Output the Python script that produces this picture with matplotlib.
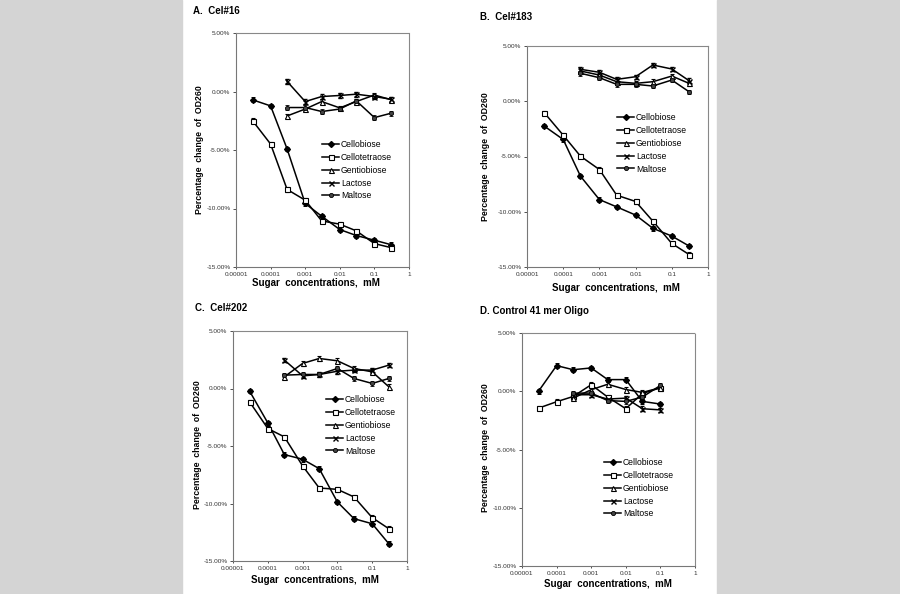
import matplotlib
matplotlib.use("Agg")
import matplotlib.pyplot as plt
from matplotlib.patches import Rectangle
from matplotlib.lines import Line2D
from matplotlib.ticker import FixedLocator, FixedFormatter, NullLocator

plt.rcParams['font.family'] = ['Liberation Sans', 'DejaVu Sans']

# ---------------- data ----------------
x_conc = [3e-5, 1e-4, 3e-4, 1e-3, 3e-3, 0.01, 0.03, 0.1, 0.3]
x_upper = [3e-4, 1e-3, 3e-3, 0.01, 0.03, 0.1, 0.3]
x_d_full = [3e-5, 1e-4, 3e-4, 1e-3, 3e-3, 0.01, 0.03, 0.1]
x_d_upper = [3e-4, 1e-3, 3e-3, 0.01, 0.03, 0.1]

series_names = ["Cellobiose", "Cellotetraose", "Gentiobiose", "Lactose", "Maltose"]

# Panel A: Cel#16
a_cellobiose = [-0.71, -1.23, -4.91, -9.57, -10.66, -11.80, -12.31, -12.71, -13.09]
a_cellotetraose = [-2.49, -4.49, -8.37, -9.29, -11.06, -11.34, -11.91, -13.00, -13.34]
a_gentiobiose = [-2.09, -1.50, -0.86, -1.40, -0.86, -0.30, -0.70]
a_lactose = [0.86, -0.86, -0.43, -0.34, -0.23, -0.43, -0.66]
a_maltose = [-1.37, -1.37, -1.71, -1.50, -0.80, -2.23, -1.86]

# Panel B: Cel#183
b_cellobiose = [-2.25, -3.46, -6.78, -8.90, -9.56, -10.30, -11.50, -12.20, -13.10]
b_cellotetraose = [-1.04, -3.07, -4.97, -6.18, -8.50, -9.07, -10.85, -12.87, -13.87]
b_gentiobiose = [2.74, 2.37, 1.77, 1.62, 1.77, 2.28, 1.62]
b_lactose = [2.89, 2.62, 1.98, 2.22, 3.28, 2.92, 1.86]
b_maltose = [2.53, 2.13, 1.53, 1.53, 1.38, 1.92, 0.86]

# Panel C: Cel#202
c_cellobiose = [-0.23, -2.99, -5.75, -6.15, -6.97, -9.87, -11.32, -11.76, -13.50]
c_cellotetraose = [-1.16, -3.48, -4.21, -6.73, -8.65, -8.77, -9.43, -11.23, -12.19]
c_gentiobiose = [1.02, 2.18, 2.61, 2.41, 1.74, 1.45, 0.15]
c_lactose = [2.47, 1.10, 1.22, 1.50, 1.60, 1.60, 2.03]
c_maltose = [1.16, 1.22, 1.22, 1.74, 0.87, 0.44, 0.87]

# Panel D: Control 41 mer Oligo
d_cellobiose = [0.00, 2.20, 1.85, 2.00, 1.00, 1.00, -0.87, -1.10]
d_cellotetraose = [-1.45, -0.90, -0.45, 0.56, -0.50, -1.50, -0.20, 0.30]
d_gentiobiose = [-0.59, 0.13, 0.60, 0.15, -0.10, 0.30]
d_lactose = [-0.30, -0.30, -0.67, -0.59, -1.50, -1.60]
d_maltose = [-0.16, -0.16, -0.80, -0.87, -0.50, 0.50]

err = 0.2

x_ticks = [1e-5, 1e-4, 1e-3, 1e-2, 1e-1, 1]
x_tick_labels = ["0.00001", "0.0001", "0.001", "0.01", "0.1", "1"]
y_ticks = [5, 0, -5, -10, -15]
y_tick_labels = ["5.00%", "0.00%", "-5.00%", "-10.00%", "-15.00%"]

styles = {
    "Cellobiose": dict(marker='D', ms=3.0, mfc='black', mec='black'),
    "Cellotetraose": dict(marker='s', ms=3.6, mfc='white', mec='black', mew=0.8),
    "Gentiobiose": dict(marker='^', ms=3.6, mfc='white', mec='black', mew=0.8),
    "Lactose": dict(marker='x', ms=3.6, mfc='black', mec='black', mew=1.0),
    "Maltose": dict(marker='o', ms=3.0, mfc='#444444', mec='black', mew=0.6),
}

W, H = 900, 594
fig = plt.figure(figsize=(9, 5.94), dpi=100, facecolor='white')
fig.patches.append(Rectangle((0, 0), 182 / W, 1, transform=fig.transFigure,
                             color='#d4d4d4', zorder=-5))
fig.patches.append(Rectangle((717 / W, 0), 1 - 717 / W, 1, transform=fig.transFigure,
                             color='#d4d4d4', zorder=-5))


def fx(px):
    return px / W


def fy(py):
    return 1 - py / H


panels = [
    dict(box=(236, 409, 33, 267), title="A.  Cel#16", tpos=(193, 11),
         ylab=(199, 150), xlab=(316, 283), leg=(322, 140), solid=False,
         data=[(x_conc, a_cellobiose), (x_conc, a_cellotetraose), (x_upper, a_gentiobiose),
               (x_upper, a_lactose), (x_upper, a_maltose)]),
    dict(box=(527, 708, 46, 267), title="B.  Cel#183", tpos=(480, 17),
         ylab=(485, 157), xlab=(616, 288), leg=(617, 113), solid=True,
         data=[(x_conc, b_cellobiose), (x_conc, b_cellotetraose), (x_upper, b_gentiobiose),
               (x_upper, b_lactose), (x_upper, b_maltose)]),
    dict(box=(233, 407, 331, 561), title="C.  Cel#202", tpos=(195, 308),
         ylab=(198, 445), xlab=(315, 580), leg=(326, 395), solid=False,
         data=[(x_conc, c_cellobiose), (x_conc, c_cellotetraose), (x_upper, c_gentiobiose),
               (x_upper, c_lactose), (x_upper, c_maltose)]),
    dict(box=(522, 695, 333, 566), title="D. Control 41 mer Oligo", tpos=(480, 311),
         ylab=(485, 448), xlab=(608, 584), leg=(604, 458), solid=False,
         data=[(x_d_full, d_cellobiose), (x_d_full, d_cellotetraose), (x_d_upper, d_gentiobiose),
               (x_d_upper, d_lactose), (x_d_upper, d_maltose)]),
]

for p in panels:
    l, r, t, b = p["box"]
    ax = fig.add_axes([fx(l), fy(b), (r - l) / W, (b - t) / H])
    ax.set_xscale('log')
    ax.set_xlim(1e-5, 1)
    ax.set_ylim(-15, 5)
    handles = []
    for name, (xs, ys) in zip(series_names, p["data"]):
        ax.errorbar(xs, ys, yerr=[err] * len(ys), color='black', lw=1.1,
                    elinewidth=0.7, capsize=1.5, capthick=0.7, **styles[name])
        handles.append(Line2D([], [], color='black', lw=1.1, label=name, **styles[name]))
    ax.xaxis.set_major_locator(FixedLocator(x_ticks))
    ax.xaxis.set_major_formatter(FixedFormatter(x_tick_labels))
    ax.xaxis.set_minor_locator(NullLocator())
    ax.yaxis.set_major_locator(FixedLocator(y_ticks))
    ax.yaxis.set_major_formatter(FixedFormatter(y_tick_labels))
    ax.tick_params(axis='both', labelsize=4.6, colors='#333333', length=2, width=0.6, pad=2)
    ax.tick_params(axis='x', length=1.5)
    for s in ['left', 'bottom']:
        ax.spines[s].set_color('#777777')
        ax.spines[s].set_linewidth(0.8)
    for s in ['top', 'right']:
        ax.spines[s].set_color('#888888')
        ax.spines[s].set_linewidth(0.8)
        if not p["solid"]:
            ax.spines[s].set_linestyle((0, (1, 1)))
    fig.text(fx(p["tpos"][0]), fy(p["tpos"][1]), p["title"], fontsize=7, fontweight='bold',
             ha='left', va='center')
    fig.text(fx(p["ylab"][0]), fy(p["ylab"][1]), "Percentage  change  of  OD260", fontsize=6.3,
             fontweight='bold', rotation=90, ha='center', va='center')
    fig.text(fx(p["xlab"][0]), fy(p["xlab"][1]), "Sugar  concentrations,  mM", fontsize=7,
             fontweight='bold', ha='center', va='center')
    ax.legend(handles=handles, loc='upper left',
              bbox_to_anchor=(fx(p["leg"][0]), fy(p["leg"][1])),
              bbox_transform=fig.transFigure, frameon=False, fontsize=6.2,
              handlelength=2.0, handletextpad=0.2, labelspacing=0.45, borderpad=0,
              borderaxespad=0)

fig.savefig("out.png", dpi=100, facecolor='white')
